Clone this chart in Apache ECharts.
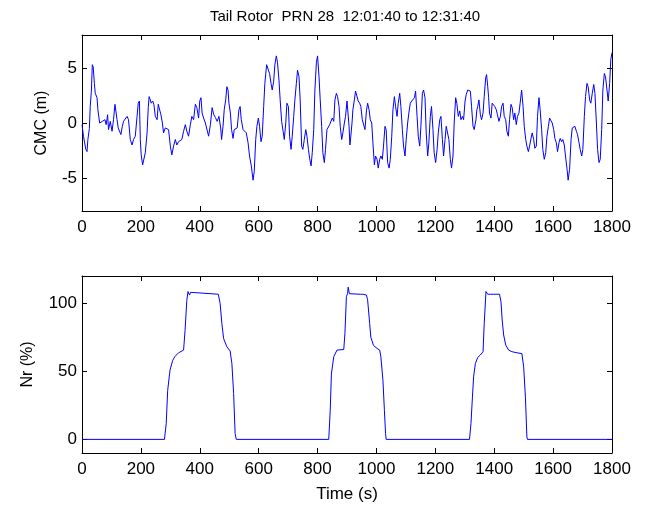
<!DOCTYPE html>
<html>
<head>
<meta charset="utf-8">
<script src="https://cdn.jsdelivr.net/npm/echarts@6/dist/echarts.min.js"></script>
<style>html,body{margin:0;padding:0;background:#fff;}#c{width:647px;height:505px;}</style>
</head>
<body>
<div id="c"></div>
<script>
var titleText = 'Tail Rotor  PRN 28  12:01:40 to 12:31:40';
var xTicks = [0, 200, 400, 600, 800, 1000, 1200, 1400, 1600, 1800];
var cmcTicks = [-5, 0, 5];
var nrTicks = [0, 50, 100];

var cmcTime = [0,5,13,17,20,25,28,32,35,38,42,45,51,54,60,64,69,73,78,82,87,90,96,102,107,112,115,119,123,128,132,137,141,147,153,158,164,170,175,181,187,191,195,198,201,206,210,215,221,225,228,232,235,240,244,249,255,259,264,268,273,277,283,288,294,300,305,311,317,322,328,334,339,345,351,356,362,368,373,379,385,390,396,400,404,408,413,419,424,430,436,442,447,453,459,465,471,474,479,483,488,492,496,499,504,508,513,517,522,527,533,537,541,547,552,558,564,569,575,581,585,590,594,599,603,608,612,617,621,627,633,637,642,646,651,655,660,664,669,673,678,683,687,692,696,701,705,710,714,719,723,728,732,737,741,746,750,755,760,764,769,773,778,782,787,791,796,800,805,809,814,818,823,827,832,836,841,846,850,855,859,864,868,873,877,882,886,891,895,900,903,907,910,913,917,920,925,929,934,938,943,947,952,957,961,966,970,975,979,984,988,993,997,1002,1006,1011,1015,1020,1024,1029,1033,1038,1043,1047,1052,1056,1061,1065,1070,1074,1079,1083,1088,1092,1097,1101,1106,1110,1115,1120,1124,1129,1133,1138,1142,1147,1151,1156,1160,1165,1169,1174,1178,1183,1187,1192,1196,1201,1206,1210,1215,1219,1224,1228,1233,1237,1242,1246,1251,1255,1260,1264,1269,1273,1278,1283,1287,1292,1296,1301,1305,1310,1314,1319,1323,1328,1332,1338,1341,1344,1348,1353,1357,1362,1366,1371,1374,1378,1381,1384,1389,1393,1398,1402,1407,1411,1416,1421,1425,1430,1434,1439,1443,1448,1452,1457,1461,1466,1470,1475,1479,1484,1488,1493,1498,1502,1507,1511,1516,1520,1525,1529,1534,1538,1543,1547,1552,1556,1561,1565,1570,1575,1579,1584,1588,1593,1597,1602,1606,1611,1615,1620,1624,1629,1633,1638,1642,1647,1651,1656,1661,1665,1670,1674,1679,1683,1688,1692,1697,1701,1706,1710,1715,1719,1724,1728,1733,1738,1742,1747,1751,1756,1760,1765,1769,1774,1778,1783,1787,1792,1796,1800];
var cmcValue = [-0.15,-1.2,-2.4,-2.6,-1.5,-0.5,1.5,3.0,5.3,5.1,3.6,2.7,2.3,1.2,0,-0.15,0.15,0,0.3,-0.15,0.75,-0.6,0.15,-0.75,0.3,1.7,1.8,0.3,-0.45,-0.6,-1.05,-0.3,0.15,0,0.6,0.3,-1.5,-2.0,-1.5,-1.2,0.6,1.8,2.0,-1.5,-2.9,-3.8,-3.9,-2.7,-0.9,1.4,2.4,2.1,1.8,2.0,1.7,0.6,0.3,1.7,1.8,0.75,0,-0.9,-0.45,-0.3,-0.6,-2.1,-2.9,-2.1,-1.5,-2.0,-1.7,-1.8,-1.5,-0.75,-0.15,-0.75,-1.2,-0.15,0.6,0.3,1.7,1.4,0.45,2.0,2.3,0.9,0.45,0,-0.15,-1.2,-0.15,1.4,0.8,0.5,0.15,0.6,-0.45,-1.5,-0.3,1.2,2.1,3.3,3.0,1.8,0.9,-0.6,-1.4,-0.6,-0.6,-0.45,1.2,1.5,0.3,-0.6,-0.45,-0.9,-1.8,-3.0,-3.9,-5.2,-4.4,-1.5,-0.3,0.45,-0.3,-1.7,-1.2,1.5,3.6,5.3,5.2,4.5,3.6,3.0,3.8,5.3,6.1,5.5,3.9,2.1,0.15,-0.75,-1.5,0,1.8,1.5,-1.2,-2.4,-1.2,0.6,2.1,3.6,4.8,4.2,2.1,-2.1,-2.4,-1.5,-0.6,-1.2,-2.4,-3.2,-3.9,-2.7,-0.6,3.0,5.5,6.1,4.2,2.1,-0.3,-2.7,-3.6,-2.4,-0.6,-0.45,-0.15,0,0.45,0.15,2.1,2.7,2.4,1.5,-0.3,-1.5,-0.9,0,0.6,2.0,2.1,-0.3,-2.0,-1.2,0,1.2,2.1,2.9,3.0,2.0,1.8,1.5,0.3,0.45,-0.6,1.1,1.8,1.2,0.3,0,-1.8,-3.8,-3.0,-3.3,-4.1,-3.3,-3.0,-3.3,-2.1,-0.3,-0.6,-3.6,-4.1,-3.3,-1.2,1.2,2.4,1.5,0.6,1.8,2.7,1.5,-0.6,-2.1,-3.0,-1.5,0,0.9,1.8,2.0,2.1,2.3,2.9,0.6,-1.2,-2.1,-0.3,2.7,3.0,2.3,-0.9,-3.0,-1.8,0.6,1.5,-0.6,-2.7,-3.6,-2.4,-0.9,0.3,0.6,-1.5,-3.0,-1.5,-0.3,-0.15,-1.5,-3.3,-4.1,-3.0,0,2.3,1.8,0.6,1.1,0.3,0.6,0.3,2.0,2.6,3.0,3.0,2.9,1.5,-0.3,-0.6,0.3,1.2,1.5,2.1,0.75,0.3,0.9,2.4,4.1,4.4,3.3,2.3,0.9,0.45,1.8,1.7,1.5,1.2,0.75,0.15,0.6,1.5,1.8,0.6,0.3,-0.75,-1.2,0.3,1.7,1.4,0.3,0.9,-0.15,0.6,0.9,1.8,3.0,1.5,-0.3,-1.5,-2.1,-2.6,-2.1,-1.4,-0.9,-1.5,-2.3,-2.1,0.6,2.3,1.2,-0.6,-2.4,-3.3,-2.7,-1.2,-0.3,0.45,0.45,0,-0.6,-1.4,-1.8,-2.6,-1.8,-1.4,-1.7,-1.5,-2.0,-3.0,-4.1,-5.2,-4.2,-1.5,-0.45,-0.6,-0.3,-0.75,-1.05,-1.8,-2.4,-3.0,-2.4,0.6,2.4,3.6,3.3,2.1,1.8,2.7,3.5,2.7,0,-2.4,-3.6,-3.3,-0.6,3.0,4.5,4.2,3.0,2.0,3.6,5.8,6.4];

var nrTime = [0,280,286,291,299,308,316,328,345,350,356,360,365,369,374,463,469,475,481,492,503,509,515,520,524,838,843,847,855,866,889,893,898,902,904,908,945,950,954,959,966,970,977,981,990,1002,1011,1015,1022,1027,1031,1033,1316,1321,1326,1330,1336,1344,1353,1362,1366,1372,1378,1387,1392,1398,1404,1418,1423,1427,1432,1439,1449,1460,1477,1494,1500,1506,1511,1513,1800];
var nrValue = [0,0,11.5,36,51,58,61,63.6,65.6,80,102,108.6,106,108,106.6,106.6,100,85,74,68,65,55.8,33.7,4.2,0,0,21,48,60.7,65.6,66,78,105,107,111.8,107,106.6,105.4,106.6,105.6,106,102.5,85,75,69,66.8,65.6,60.7,43.5,21.4,4.2,0,0,11.5,31,46,55.8,60.2,62,64.4,85,108.6,106.6,106.6,105.8,106.6,105.8,106.6,101,87.7,76.7,69.3,65.6,64.4,63.6,63,53.3,31,1.7,0,0];

function pairs(t, v) { return t.map(function (x, i) { return [x, v[i]]; }); }
function plain(v) { return String(v); }

var FONT = "'Liberation Sans', Arial, sans-serif";
var lineStyleAxis = { color: '#000', width: 1 };

function xAx(grid, pos, labels, name) {
  return {
    type: 'value', gridIndex: grid, position: pos, min: 0, max: 1800,
    name: name || '', nameLocation: 'middle', nameGap: 33,
    nameTextStyle: { fontFamily: FONT, fontSize: 17, color: '#000' },
    axisLine: { show: true, onZero: false, lineStyle: lineStyleAxis },
    axisTick: { show: true, inside: true, length: 5, customValues: xTicks, lineStyle: lineStyleAxis },
    axisLabel: { show: labels, customValues: xTicks, formatter: plain, margin: 8, fontFamily: FONT, fontSize: 17, color: '#000' },
    splitLine: { show: false }
  };
}
function yAx(grid, pos, labels, min, max, ticks, name, gap) {
  return {
    type: 'value', gridIndex: grid, position: pos, min: min, max: max,
    name: name || '', nameLocation: 'middle', nameGap: gap || 30, nameRotate: 90,
    nameTextStyle: { fontFamily: FONT, fontSize: 16, color: '#000' },
    axisLine: { show: true, onZero: false, lineStyle: lineStyleAxis },
    axisTick: { show: true, inside: true, length: 5, customValues: ticks, lineStyle: lineStyleAxis },
    axisLabel: { show: labels, customValues: ticks, formatter: plain, margin: 5, fontFamily: FONT, fontSize: 17, color: '#000' },
    splitLine: { show: false }
  };
}

var chart = echarts.init(document.getElementById('c'), null, { renderer: 'canvas' });
chart.setOption({
  backgroundColor: '#fff',
  animation: false,
  title: {
    text: titleText, left: 340, top: 4, textAlign: 'center',
    textStyle: { fontFamily: FONT, fontSize: 15, fontWeight: 'normal', color: '#000' }
  },
  grid: [
    { left: 82, top: 35, width: 530, height: 176 },
    { left: 82, top: 276, width: 530, height: 177 }
  ],
  xAxis: [
    xAx(0, 'bottom', true),
    xAx(0, 'top', false),
    xAx(1, 'bottom', true, 'Time (s)'),
    xAx(1, 'top', false)
  ],
  yAxis: [
    yAx(0, 'left', true, -8, 8, cmcTicks, 'CMC (m)', 32),
    yAx(0, 'right', false, -8, 8, cmcTicks),
    yAx(1, 'left', true, -10, 120, nrTicks, 'Nr (%)', 46),
    yAx(1, 'right', false, -10, 120, nrTicks)
  ],
  series: [
    { type: 'line', xAxisIndex: 0, yAxisIndex: 0, data: pairs(cmcTime, cmcValue), showSymbol: false,
      lineStyle: { color: '#0000ff', width: 1 }, itemStyle: { color: '#0000ff' } },
    { type: 'line', xAxisIndex: 2, yAxisIndex: 2, data: pairs(nrTime, nrValue), showSymbol: false,
      lineStyle: { color: '#0000ff', width: 1 }, itemStyle: { color: '#0000ff' } }
  ]
});
</script>
</body>
</html>
